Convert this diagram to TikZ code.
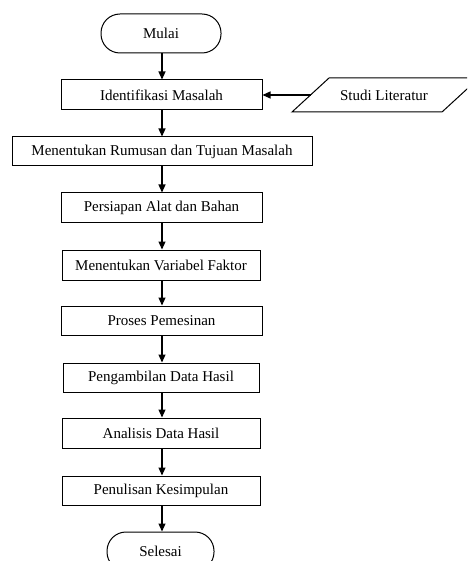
\documentclass[tikz,border=0pt]{standalone}
\usepackage{fontspec}
\setmainfont{Liberation Serif}
\usetikzlibrary{arrows.meta}
\begin{document}
\begin{tikzpicture}[x=1pt,y=-1pt,
  txt/.style={font=\fontsize{15}{17}\selectfont},
  box/.style={draw, line width=1pt, rectangle, inner sep=0pt, txt},
  term/.style={draw, line width=1pt, rectangle, rounded corners=19pt, inner sep=0pt, minimum width=#1, minimum height=39pt, txt},
  flow/.style={line width=1.1pt, -{Triangle[length=8pt,width=7pt]}}]
\useasboundingbox (0,0) rectangle (467,561);
\clip (0,0) rectangle (467,561);
\node[term=120pt] (mulai) at (161,33.5) {Mulai};
\node[box, minimum width=201pt, minimum height=30pt] (ident) at (161.5,95) {Identifikasi Masalah};
\node[box, minimum width=300pt, minimum height=29pt] (rumus) at (162,151.5) {Menentukan Rumusan dan Tujuan Masalah};
\node[box, minimum width=201pt, minimum height=29pt] (siap) at (161.5,207.5) {Persiapan Alat dan Bahan};
\node[box, minimum width=198pt, minimum height=30pt] (var) at (161,265) {Menentukan Variabel Faktor};
\node[box, minimum width=201pt, minimum height=29pt] (proses) at (161.5,320.5) {Proses Pemesinan};
\node[box, minimum width=196pt, minimum height=29pt] (ambil) at (161,377.5) {Pengambilan Data Hasil};
\node[box, minimum width=198pt, minimum height=30pt] (analisis) at (161,433) {Analisis Data Hasil};
\node[box, minimum width=198pt, minimum height=29pt] (tulis) at (161,490.5) {Penulisan Kesimpulan};
\node[term=107pt] (selesai) at (160.5,551.5) {Selesai};
% Studi Literatur (parallelogram)
\draw[line width=1pt] (292,112) -- (442,112) -- (479,78) -- (329,78) -- cycle;
\node[txt, inner sep=0pt] (studi) at (384,95) {Studi Literatur};
\coordinate (studiW) at (310.5,95);
\draw[flow] (studiW) -- (ident.east);
\draw[flow] (162,0 |- mulai.south) -- (162,0 |- ident.north);
\draw[flow] (162,0 |- ident.south) -- (162,0 |- rumus.north);
\draw[flow] (162,0 |- rumus.south) -- (162,0 |- siap.north);
\draw[flow] (162,0 |- siap.south) -- (162,0 |- var.north);
\draw[flow] (162,0 |- var.south) -- (162,0 |- proses.north);
\draw[flow] (162,0 |- proses.south) -- (162,0 |- ambil.north);
\draw[flow] (162,0 |- ambil.south) -- (162,0 |- analisis.north);
\draw[flow] (162,0 |- analisis.south) -- (162,0 |- tulis.north);
\draw[flow] (162,0 |- tulis.south) -- (162,0 |- selesai.north);
\end{tikzpicture}
\end{document}
